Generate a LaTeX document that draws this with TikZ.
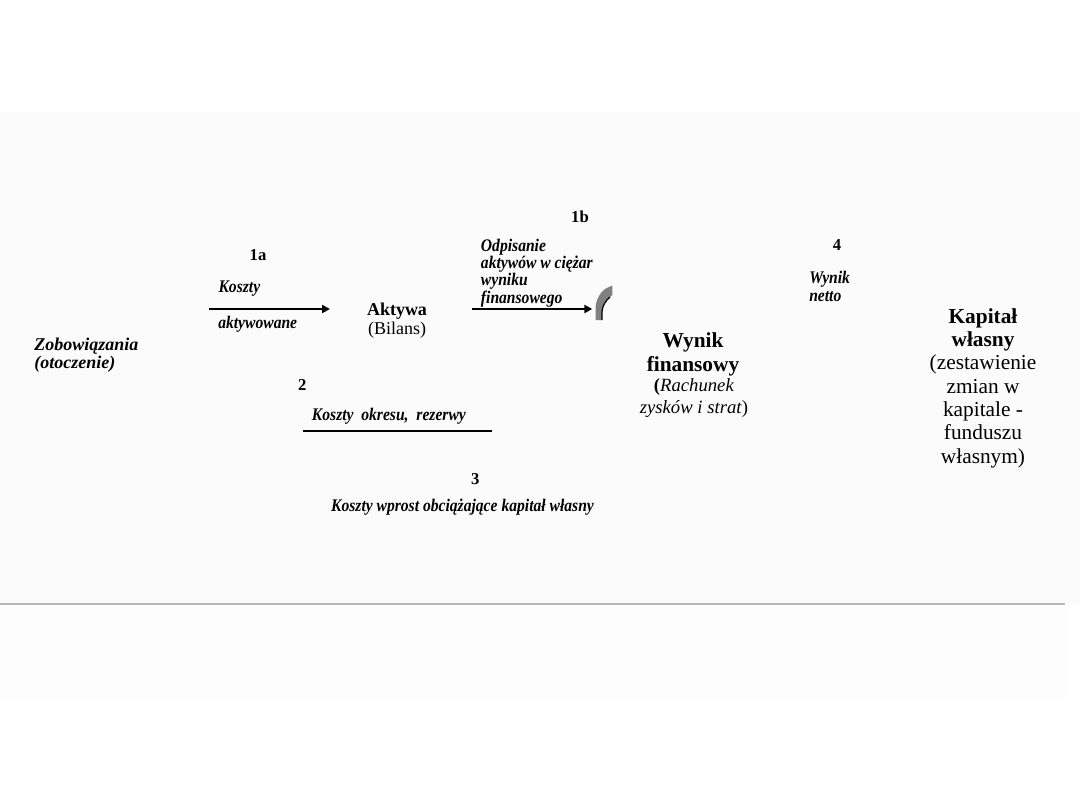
\documentclass[tikz,border=0pt]{standalone}
\usepackage{fontspec}
\setmainfont{Liberation Serif}
\newfontfamily\condfont[FakeStretch=0.88]{Liberation Serif}
\usetikzlibrary{arrows.meta}
\definecolor{bandgray}{HTML}{FBFBFB}
\definecolor{lowgray}{HTML}{FDFDFD}
\definecolor{rulegray}{HTML}{B8B8B8}
\definecolor{arcgray}{HTML}{808080}
\begin{document}
\begin{tikzpicture}[x=0.75pt,y=-0.75pt,
  lbl/.style={font=\condfont\fontsize{13.3}{13}\selectfont\bfseries\itshape, inner sep=0pt, align=left},
  num/.style={font=\fontsize{12.5}{14}\selectfont\bfseries, inner sep=0pt},
  flow/.style={line width=1.6pt, -{Triangle[length=6pt,width=6pt]}},
  bar/.style={line width=2.2pt}
]
\useasboundingbox (0,0) rectangle (1080,810);
% background
\fill[bandgray] (0,112) rectangle (1080,604);
\fill[lowgray] (0,605) rectangle (1065,700);
\draw[rulegray, line width=1.1pt] (0,604) -- (1065,604);

% main entities
\node[font=\fontsize{13.5}{9.8}\selectfont\bfseries\itshape, inner sep=0pt, align=left, anchor=west]
  (zob) at (34,355) {Zobowiązania\\(otoczenie)};
\node[font=\fontsize{13.5}{14}\selectfont, inner sep=0pt, align=center]
  (akt) at (397,320.5) {\textbf{Aktywa}\\(Bilans)};
\node[font=\fontsize{16}{17.5}\selectfont\bfseries, inner sep=0pt, align=center]
  (wf) at (693,354.5) {Wynik\\finansowy};
\node[font=\fontsize{14}{16.3}\selectfont, inner sep=0pt, align=center]
  (wfs) at (694,398) {\textbf{(}\textit{Rachunek}\\\textit{zysków i strat})};
\node[font=\fontsize{16}{17.5}\selectfont, inner sep=0pt, align=center]
  (kap) at (983,388) {\textbf{Kapitał}\\\textbf{własny}\\(zestawienie\\zmian w\\kapitale -\\funduszu\\własnym)};

% 1a
\node[num] (n1a) at (258,254.7) {1a};
\node[lbl, anchor=west] (k1a) at (218.3,288.5) {Koszty};
\node[lbl, anchor=west] (a1a) at (218,324.4) {aktywowane};
\coordinate (s1a) at (209.3,309);
\coordinate (e1a) at (330,309);
\draw[flow] (s1a) -- (e1a);

% 1b
\node[num] (n1b) at (580,217) {1b};
\node[lbl, anchor=west] (t1b) at (480.7,273) {Odpisanie\\aktywów w ciężar\\wyniku\\finansowego};
\coordinate (s1b) at (471.7,309);
\coordinate (e1b) at (592.3,309);
\draw[flow] (s1b) -- (e1b);

% curved grey piece
\fill[arcgray] (595.5,320) -- (595.5,308) .. controls (596,299) and (601,291) .. (606.7,288)
  -- (612.3,285.5) -- (612.3,295) .. controls (607,299) and (602,305) .. (601.8,312) -- (601.8,320) -- cycle;
\draw[black, line width=0.9pt] (610,297) .. controls (606,300.5) and (602.2,305.5) .. (602,312) -- (602,320);

% 4
\node[num] (n4) at (837,244.7) {4};
\node[lbl, anchor=west] (t4) at (809,286.3) {Wynik\\netto};

% 2
\node[num] (n2) at (302.3,385.3) {2};
\node[lbl, anchor=west] (t2) at (311.7,416.7) {Koszty\ \ okresu,\ \ rezerwy};
\coordinate (s2) at (302.7,431);
\coordinate (e2) at (492.3,431);
\draw[bar] (s2) -- (e2);

% 3
\node[num] (n3) at (475.3,478.7) {3};
\node[lbl] (t3) at (462.5,507.5) {Koszty wprost obciążające kapitał własny};
\end{tikzpicture}
\end{document}
